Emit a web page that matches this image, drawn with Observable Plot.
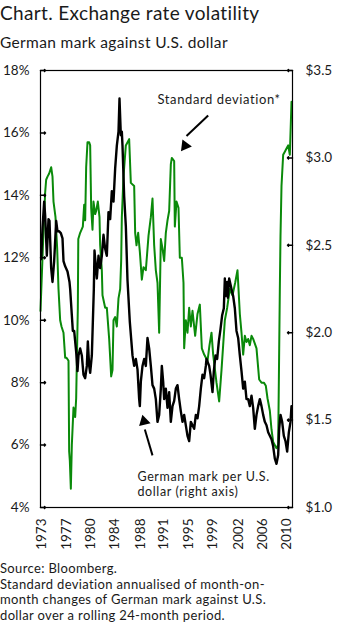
<!DOCTYPE html>
<html><head><meta charset="utf-8">
<script src="https://cdn.jsdelivr.net/npm/d3@7"></script>
<script src="https://cdn.jsdelivr.net/npm/@observablehq/plot@0.6"></script>
<style>
body{margin:0;background:#fff;font-family:Lato, sans-serif;color:#1a1a1a}
#wrap{position:relative;width:342px;height:633px;overflow:hidden;background:#fff}
.t{position:absolute;left:0;white-space:nowrap}
#title{top:1px;font-size:19px;line-height:24px;letter-spacing:0.35px}
#subtitle{top:32px;font-size:15.5px;line-height:20px;letter-spacing:0.35px}
#caption{top:561px;font-size:13px;line-height:15.5px;white-space:normal;width:342px;letter-spacing:0.35px}
svg{position:absolute;left:0;top:0}
.anno text{letter-spacing:0.6px}
</style></head><body><div id="wrap"></div>
<script>
// Standard deviation (left axis, %)
const sdYears = [1973.0,1973.35,1973.7,1973.85,1974.05,1974.3,1974.6,1974.8,1974.95,1975.25,1975.5,1975.7,1975.95,1976.15,1976.45,1976.7,1976.9,1977.2,1977.3,1977.4,1977.55,1977.7,1977.95,1978.2,1978.35,1978.6,1978.67,1978.95,1979.35,1979.55,1979.7,1979.85,1980.05,1980.3,1980.45,1980.6,1980.8,1980.95,1981.2,1981.35,1981.6,1981.85,1981.95,1982.2,1982.3,1982.7,1982.95,1983.3,1983.6,1983.8,1983.95,1984.2,1984.45,1984.7,1984.95,1985.1,1985.2,1985.45,1985.8,1986.3,1986.55,1987.05,1987.2,1987.4,1987.65,1987.9,1988.2,1988.45,1988.8,1989.2,1989.55,1989.8,1990.05,1990.3,1990.55,1990.8,1991.05,1991.3,1991.55,1991.8,1992.05,1992.3,1992.55,1992.7,1993.05,1993.15,1993.4,1993.7,1993.9,1994.2,1994.45,1994.55,1994.8,1995.05,1995.3,1995.55,1995.8,1996.2,1996.55,1996.9,1997.2,1997.55,1998.05,1998.35,1998.65,1998.9,1999.4,1999.8,2000.15,2000.4,2000.65,2001.0,2001.4,2001.8,2002.2,2002.55,2002.75,2002.9,2003.15,2003.4,2003.65,2003.9,2004.15,2004.4,2004.65,2004.9,2005.4,2005.8,2006.15,2006.5,2006.8,2007.05,2007.4,2007.65,2007.9,2008.4,2008.65,2008.9,2009.0,2009.15,2009.4,2009.65,2009.9,2010.15,2010.4,2010.65];
const sdValues = [10.3,12.3,14.1,14.5,14.6,14.7,14.9,14.6,13.8,13.3,12.3,11.0,10.0,9.8,9.6,8.8,8.8,8.7,5.8,5.5,4.6,6.0,7.2,6.9,7.5,10.4,12.6,12.8,13.0,13.7,13.2,14.9,15.7,15.7,15.6,13.6,12.9,13.8,13.4,13.5,13.8,13.3,12.4,11.6,10.8,10.4,10.4,9.4,8.2,8.4,10.0,10.1,9.8,10.7,11.0,11.9,13.3,14.6,15.6,15.8,14.4,14.3,12.8,12.4,12.8,12.2,11.3,11.7,11.6,12.7,13.3,13.9,12.4,11.6,11.2,9.6,12.6,12.3,11.9,12.8,13.2,13.5,15.0,15.2,15.1,13.0,13.8,13.6,12.0,12.0,11.2,9.1,10.0,9.6,10.4,9.8,10.3,9.5,10.2,10.5,9.1,8.9,8.7,9.2,9.6,8.9,8.0,7.4,8.4,9.2,10.0,10.4,11.0,10.8,11.2,11.6,10.8,10.2,9.6,8.9,9.5,9.3,9.4,9.2,9.5,9.4,9.1,8.1,8.0,8.0,7.9,7.5,7.1,6.5,6.1,5.9,6.0,11.0,12.7,14.3,15.3,15.4,15.5,15.6,15.3,17.0];

// German mark per U.S. dollar (right axis, $)
const fxYears = [1973.1,1973.3,1973.55,1973.7,1973.95,1974.2,1974.35,1974.6,1974.8,1975.05,1975.35,1975.55,1975.8,1976.05,1976.3,1976.45,1976.7,1977.05,1977.35,1977.45,1977.7,1977.85,1978.05,1978.2,1978.35,1978.55,1978.7,1978.95,1979.2,1979.45,1979.7,1979.95,1980.1,1980.3,1980.45,1980.7,1980.85,1981.0,1981.1,1981.45,1981.7,1981.95,1982.2,1982.45,1982.7,1982.95,1983.2,1983.45,1983.7,1983.95,1984.2,1984.45,1984.7,1984.85,1985.05,1985.2,1985.3,1985.55,1985.8,1986.05,1986.4,1986.8,1987.05,1987.3,1987.55,1987.8,1987.9,1988.05,1988.3,1988.55,1988.8,1989.05,1989.3,1989.55,1989.8,1990.05,1990.3,1990.55,1990.8,1991.05,1991.2,1991.4,1991.55,1991.8,1992.05,1992.3,1992.55,1992.8,1993.05,1993.3,1993.55,1993.8,1994.05,1994.3,1994.55,1994.8,1995.05,1995.3,1995.55,1995.8,1996.05,1996.3,1996.55,1996.8,1997.05,1997.3,1997.55,1997.8,1997.9,1998.3,1998.5,1998.8,1999.0,1999.25,1999.5,1999.75,2000.0,2000.25,2000.5,2000.65,2000.75,2001.0,2001.1,2001.3,2001.65,2001.9,2002.15,2002.4,2002.65,2002.9,2003.15,2003.4,2003.65,2003.9,2004.15,2004.4,2004.65,2004.9,2005.15,2005.4,2005.65,2005.9,2006.15,2006.4,2006.65,2006.9,2007.15,2007.4,2007.65,2007.9,2008.15,2008.4,2008.65,2008.8,2009.0,2009.25,2009.5,2009.75,2010.0,2010.25,2010.5,2010.65];
const fxValues = [2.42,2.60,2.75,2.67,2.44,2.65,2.64,2.37,2.29,2.41,2.64,2.58,2.58,2.57,2.54,2.41,2.38,2.35,2.29,2.25,2.10,2.01,2.01,1.95,1.89,1.78,1.87,1.91,1.87,1.76,1.74,1.81,1.95,1.81,1.77,1.87,2.06,2.25,2.47,2.31,2.44,2.37,2.44,2.56,2.48,2.44,2.69,2.65,2.81,2.75,2.94,3.07,3.15,3.34,3.13,3.15,3.07,2.78,2.61,2.30,2.06,1.87,1.81,1.85,1.79,1.62,1.58,1.72,1.81,1.85,1.81,1.97,1.91,1.81,1.70,1.68,1.62,1.49,1.53,1.68,1.81,1.72,1.62,1.68,1.57,1.66,1.49,1.58,1.61,1.68,1.70,1.62,1.55,1.49,1.53,1.47,1.41,1.38,1.49,1.47,1.45,1.53,1.51,1.58,1.68,1.76,1.74,1.81,1.85,1.81,1.76,1.66,1.78,1.87,1.85,1.95,2.02,2.10,2.14,2.31,2.21,2.29,2.20,2.31,2.25,2.21,2.14,2.01,1.97,1.87,1.78,1.68,1.72,1.62,1.62,1.58,1.64,1.57,1.45,1.53,1.58,1.62,1.58,1.53,1.49,1.47,1.43,1.41,1.39,1.35,1.28,1.25,1.30,1.45,1.53,1.49,1.41,1.38,1.32,1.43,1.49,1.58];

// Axis ticks
const xTickPos = [1973.2,1977.0,1980.5,1984.2,1988.0,1991.5,1995.2,1998.9,2002.7,2006.3,2010.0];
const xTickLabels = ["1973","1977","1980","1984","1988","1991","1995","1999","2002","2006","2010"];
const leftTicks = [4,6,8,10,12,14,16,18];
const rightTicks = [1.0,1.5,2.0,2.5,3.0,3.5];

// Annotations (data coordinates on the left-axis scale)
const sdLabel = [{year:1990.55, pct:17.07, text:"Standard deviation*"}];
const fxLabel = [{year:1987.55, pct:4.75, text:"German mark per U.S.\ndollar (right axis)"}];
const arrows = [
  {x1:1998.15, y1:16.56, x2:1994.9, y2:15.9, hx:1994.69, hy:15.59, angle:217},
  {x1:1989.8, y1:5.67, x2:1988.65, y2:6.5, hx:1988.53, hy:6.76, angle:-14}
];

const toPct = v => 4 + (v - 1) * 14 / 2.5;
const rightPct = rightTicks.map(toPct);
const sd = sdYears.map((y, i) => ({year: y, v: sdValues[i]}));
const fx = fxYears.map((y, i) => ({year: y, v: toPct(fxValues[i])}));

const plot = Plot.plot({
  width: 342, height: 559,
  marginLeft: 40, marginRight: 50, marginTop: 70, marginBottom: 52,
  style: {fontFamily: "Lato, sans-serif", fontSize: "13px", background: "transparent", color: "#1a1a1a", overflow: "visible"},
  x: {domain: [1973, 2010.8]},
  y: {domain: [4, 18]},
  marks: [
    Plot.line(sd, {x: "year", y: "v", stroke: "#0a8a0a", strokeWidth: 2}),
    Plot.line(fx, {x: "year", y: "v", stroke: "#000", strokeWidth: 2.4}),
    Plot.frame({stroke: "#000", strokeWidth: 1.2}),
    Plot.axisY(leftTicks, {anchor: "left", tickSize: 0, tickPadding: 11, tickFormat: d => d + "%", label: null, fontSize: 13.5}),
    Plot.vector(leftTicks, {y: d => d, frameAnchor: "left", length: 5, rotate: 90, anchor: "start", stroke: "#000"}),
    Plot.axisY(rightPct, {anchor: "right", tickSize: 0, tickPadding: 13, tickFormat: d => "$" + rightTicks[rightPct.indexOf(d)].toFixed(1), label: null, fontSize: 13.5}),
    Plot.vector(rightPct, {y: d => d, frameAnchor: "right", length: 5, rotate: -90, anchor: "start", stroke: "#000"}),
    Plot.axisX(xTickPos, {anchor: "bottom", tickSize: 0, tickPadding: 11, tickRotate: -90, tickFormat: d => xTickLabels[xTickPos.indexOf(d)], label: null, fontSize: 13.5}),
    Plot.text(sdLabel, {x: "year", y: "pct", text: "text", textAnchor: "start", fontSize: 13, fill: "#1a1a1a", className: "anno"}),
    Plot.text(fxLabel, {x: "year", y: "pct", text: "text", textAnchor: "start", fontSize: 12.5, lineHeight: 1.17, fill: "#1a1a1a", className: "anno"}),
    Plot.link(arrows, {x1: "x1", y1: "y1", x2: "x2", y2: "y2", stroke: "#000", strokeWidth: 2}),
    Plot.dot(arrows, {x: "hx", y: "hy", symbol: "triangle", r: 4.4, fill: "#000", stroke: "none", rotate: "angle"})
  ]
});

const wrap = document.getElementById("wrap");
wrap.appendChild(plot);
const mk = (id, txt) => { const d = document.createElement("div"); d.id = id; d.className = "t"; d.textContent = txt; wrap.appendChild(d); return d; };
mk("title", "Chart. Exchange rate volatility");
mk("subtitle", "German mark against U.S. dollar");
const cap = mk("caption", "");
cap.innerHTML = "Source: Bloomberg.<br>Standard deviation annualised of month-on-<br>month changes of German mark against U.S.<br>dollar over a rolling 24-month period.";
</script>
</body></html>
